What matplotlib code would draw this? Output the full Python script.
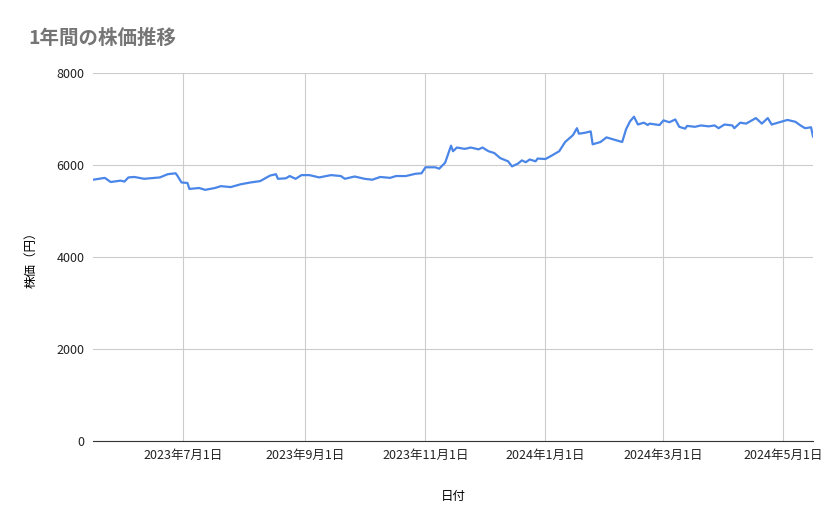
import matplotlib
matplotlib.use("Agg")
import matplotlib.pyplot as plt
import matplotlib.dates as mdates
import numpy as np
import datetime as dt

plt.rcParams['font.family'] = ['Noto Sans CJK JP', 'DejaVu Sans']

start = dt.date(2023, 5, 16)
day_offsets = [0,6,9,14,16,18,21,26,34,38,42,43,45,48,49,54,57,62,65,70,75,80,85,90,93,94,98,100,103,106,110,115,121,126,128,133,138,142,146,151,154,159,164,167,169,174,176,179,182,183,185,189,192,196,198,201,204,207,211,213,216,218,220,222,225,226,230,233,237,240,244,246,247,250,253,254,258,261,265,269,271,273,275,277,280,282,283,286,288,290,293,296,298,301,302,306,309,313,316,318,321,325,326,329,332,337,340,343,345,349,353,357,360,362,365,366]
prices = [5680,5720,5630,5660,5640,5730,5740,5700,5730,5800,5820,5760,5620,5610,5480,5500,5460,5500,5540,5520,5580,5620,5650,5770,5800,5700,5710,5760,5700,5780,5780,5730,5780,5760,5700,5750,5700,5680,5740,5720,5760,5760,5810,5820,5950,5950,5920,6050,6420,6300,6380,6350,6380,6340,6380,6300,6260,6150,6080,5970,6030,6100,6060,6120,6080,6140,6130,6200,6300,6500,6650,6800,6680,6700,6730,6450,6500,6600,6550,6500,6780,6950,7050,6880,6920,6870,6900,6880,6870,6970,6930,6990,6830,6790,6850,6830,6860,6840,6860,6800,6880,6860,6800,6920,6900,7020,6900,7020,6880,6930,6980,6940,6850,6800,6820,6620]
dates = [start + dt.timedelta(days=d) for d in day_offsets]
tick_dates = [dt.date(2023,7,1), dt.date(2023,9,1), dt.date(2023,11,1), dt.date(2024,1,1), dt.date(2024,3,1), dt.date(2024,5,1)]
tick_labels = ["2023年7月1日","2023年9月1日","2023年11月1日","2024年1月1日","2024年3月1日","2024年5月1日"]

fig = plt.figure(figsize=(8.39, 5.19), dpi=100)
ax = fig.add_axes([93/839, 1-441/519, 720/839, 368/519])
ax.plot(dates, prices, color='#4a86e8', lw=1.6)
ax.set_xlim(dates[0], dates[-1])
ax.set_ylim(0, 8000)
ax.set_yticks([0,2000,4000,6000,8000])
ax.set_xticks(tick_dates)
ax.set_xticklabels(tick_labels)
ax.grid(True, color='#cccccc', lw=0.8)
for s in ['top','right','left']:
    ax.spines[s].set_visible(False)
ax.spines['bottom'].set_color('#333333')
ax.tick_params(length=0, labelsize=9, colors='#222222', pad=6)
ax.set_xlabel("日付", fontsize=9, labelpad=20)
ax.set_ylabel("株価（円）", fontsize=9, labelpad=14)
fig.text(28/839, 1-38/519, "1年間の株価推移", fontsize=14, color='#757575', fontweight='bold', va='center')
fig.savefig("out.png", dpi=100, facecolor='white')
